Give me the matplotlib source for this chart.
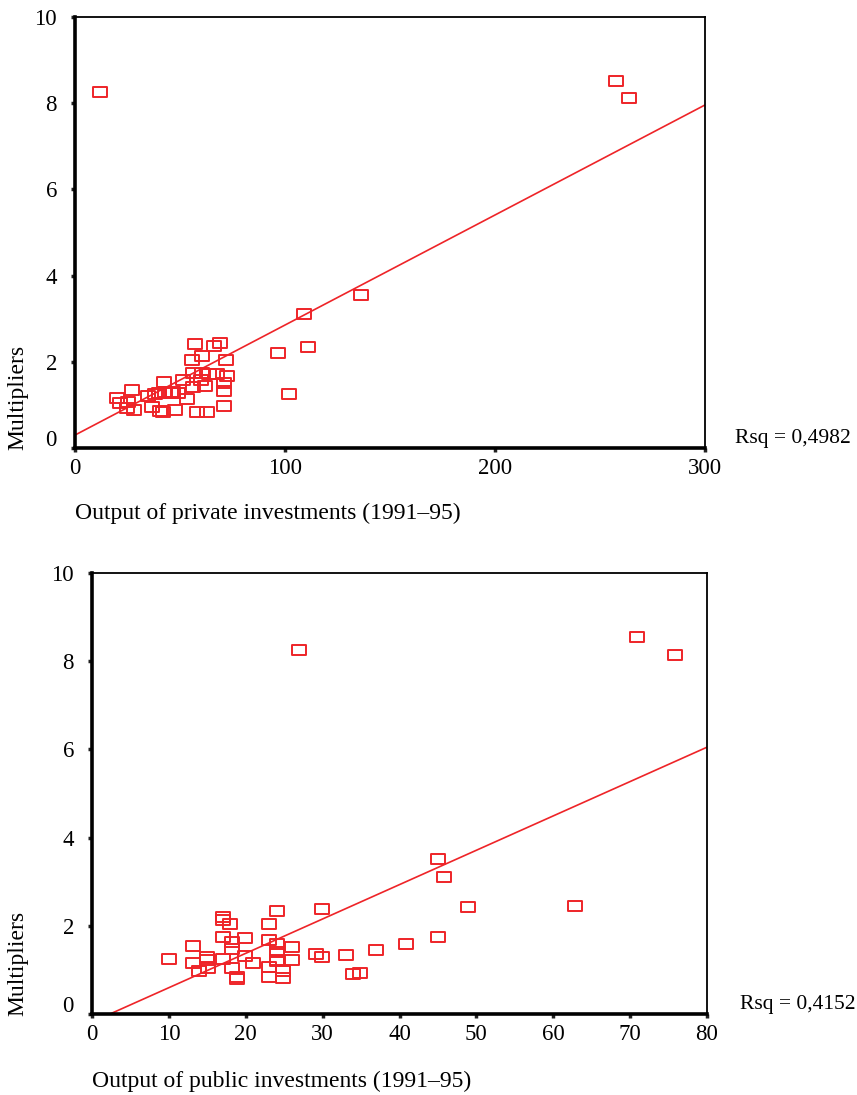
import matplotlib
matplotlib.use("Agg")
import matplotlib.pyplot as plt
import numpy as np
from matplotlib.path import Path
from matplotlib.transforms import ScaledTranslation

plt.rcParams['font.family'] = ['Liberation Serif', 'DejaVu Serif']

# ---- data: top chart (private investments) ----
x_private = [11.9, 257.6, 264, 136, 109, 111, 96.5, 102,
             57, 66, 69, 60.5, 55.5, 72, 56, 60.5, 67.6, 72.4, 51.4, 61.9,
             71, 71, 56, 42.5, 46.7, 43, 53.3, 71, 47.6, 58, 63, 42,
             27.1, 20, 21.4, 25.2, 24.8, 28.1, 34.8, 36.7, 40, 49, 40.5, 60, 64, 45.5, 38]
y_private = [8.26, 8.51, 8.12, 3.55, 3.11, 2.34, 2.21, 1.25,
             2.41, 2.37, 2.44, 2.13, 2.04, 2.04, 1.74, 1.74, 1.72, 1.67, 1.58, 1.44,
             1.51, 1.32, 1.42, 1.53, 1.30, 1.30, 1.14, 0.97, 0.88, 0.84, 0.84, 0.84,
             1.35, 1.16, 1.04, 1.07, 0.93, 0.88, 1.21, 0.95, 1.28, 1.28, 0.86, 1.58, 1.72, 1.28, 1.25]
fit_private = (0.30, 0.02553)   # intercept, slope
rsq_private = "Rsq = 0,4982"

# ---- data: bottom chart (public investments) ----
x_public = [26.9, 70.9, 75.9, 45, 45.8, 48.9, 62.8, 45, 40.8, 36.9, 33, 29.1, 29.9,
            34, 34.8, 10, 29.9, 26, 26, 24.1, 23, 19.9, 23, 24.1, 24.1, 19.9, 21,
            24.1, 23, 23, 24.8, 24.8, 17, 17, 18, 13.1, 17, 18.2, 18.2, 13.1, 15,
            15, 13.9, 15.1, 17, 18.2, 18.9, 18.9, 24.1]
y_public = [8.25, 8.55, 8.14, 3.52, 3.11, 2.43, 2.45, 1.75, 1.59, 1.45, 1.34, 1.36, 1.30,
            0.91, 0.93, 1.25, 2.39, 1.52, 1.23, 2.34, 2.05, 1.73, 1.68, 1.59, 1.41, 1.32, 1.16,
            1.23, 1.07, 0.85, 0.98, 0.81, 2.20, 2.14, 2.05, 1.55, 1.75, 1.64, 1.48, 1.16, 1.30,
            1.23, 0.98, 1.04, 1.25, 1.05, 0.84, 0.80, 1.20]
fit_public = (-0.182, 0.0779)
rsq_public = "Rsq = 0,4152"

xticks_private = [0, 100, 200, 300]
xticks_public = [0, 10, 20, 30, 40, 50, 60, 70, 80]
yticks = [0, 2, 4, 6, 8, 10]

RED = '#ee2428'
rect = Path([(-0.72, -0.5), (0.72, -0.5), (0.72, 0.5), (-0.72, 0.5), (-0.72, -0.5)],
            [Path.MOVETO, Path.LINETO, Path.LINETO, Path.LINETO, Path.CLOSEPOLY])

W, H = 857, 1095
fig = plt.figure(figsize=(W / 100, H / 100), dpi=100)


def make(rect_px, xs, ys, fit, xlim, xticks, xlabel, rsq, xlab_y, rsq_xy):
    l, t, r, b = rect_px
    ax = fig.add_axes([l / W, 1 - b / H, (r - l) / W, (b - t) / H])
    ax.plot(xs, ys, linestyle='none', marker=rect, markersize=9.5,
            markerfacecolor='none', markeredgecolor=RED, markeredgewidth=1.4)
    xl = np.array([xlim[0], xlim[1]], dtype=float)
    ax.plot(xl, fit[0] + fit[1] * xl, color=RED, lw=1.2)
    ax.set_xlim(*xlim)
    ax.set_ylim(0, 10)
    ax.set_xticks(xticks)
    ax.set_yticks(yticks)
    ax.tick_params(direction='out', length=3, width=2.5, labelsize=16.5,
                   color='#222222')
    ax.tick_params(axis='y', pad=10)
    ax.tick_params(axis='x', pad=4)
    for s in ['left', 'bottom']:
        ax.spines[s].set_linewidth(2.6)
    for s in ['top', 'right']:
        ax.spines[s].set_linewidth(1.3)
    lab0 = ax.get_yticklabels()[0]
    lab0.set_transform(lab0.get_transform() +
                       ScaledTranslation(0, 10 / 100, fig.dpi_scale_trans))
    fig.text(l / W, 1 - xlab_y / H, xlabel, fontsize=17, ha='left', va='center')
    fig.text(rsq_xy[0] / W, 1 - rsq_xy[1] / H, rsq, fontsize=15.5, ha='left', va='center')
    fig.text(18 / W, 1 - (b + 2) / H, 'Multipliers', fontsize=17, rotation=90,
             ha='center', va='bottom')
    return ax


make((75, 17, 705, 448), x_private, y_private, fit_private, (0, 300), xticks_private,
     'Output of private investments (1991\u201395)', rsq_private, 513, (735, 438))
make((92, 573, 707, 1014), x_public, y_public, fit_public, (0, 80), xticks_public,
     'Output of public investments (1991\u201395)', rsq_public, 1081, (740, 1004))

fig.savefig('out.png', dpi=100)
